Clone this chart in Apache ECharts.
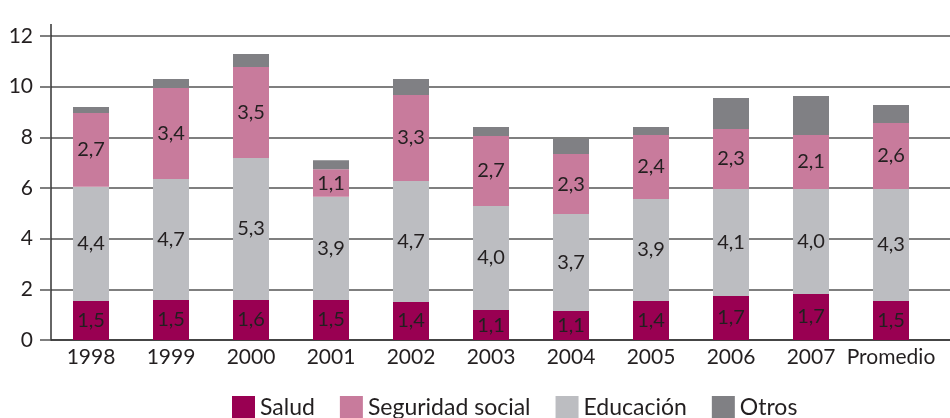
<!DOCTYPE html>
<html lang="es">
<head>
    <meta charset="UTF-8">
    <title>Gasto social</title>
    <script src="https://cdn.jsdelivr.net/npm/echarts@6/dist/echarts.min.js"></script>
    <style>
        html, body { margin: 0; padding: 0; background: #ffffff; }
        #main { width: 950px; height: 418px; }
    </style>
</head>
<body>
<div id="main"></div>
<script type="text/javascript">
    // categorias del eje x
    var categories = ['1998', '1999', '2000', '2001', '2002', '2003', '2004', '2005', '2006', '2007', 'Promedio'];

    // alturas de los tramos
    var salud = [1.54, 1.58, 1.58, 1.58, 1.50, 1.18, 1.14, 1.54, 1.74, 1.82, 1.54];
    var educacion = [4.51, 4.78, 5.60, 4.07, 4.78, 4.11, 3.83, 4.03, 4.22, 4.14, 4.42];
    var seguridad = [2.91, 3.59, 3.60, 1.09, 3.39, 2.76, 2.37, 2.52, 2.37, 2.13, 2.61];
    var otros = [0.24, 0.35, 0.51, 0.36, 0.63, 0.36, 0.60, 0.32, 1.22, 1.54, 0.71];

    // etiquetas impresas dentro de las barras
    var saludLabels = ['1,5', '1,5', '1,6', '1,5', '1,4', '1,1', '1,1', '1,4', '1,7', '1,7', '1,5'];
    var educacionLabels = ['4,4', '4,7', '5,3', '3,9', '4,7', '4,0', '3,7', '3,9', '4,1', '4,0', '4,3'];
    var seguridadLabels = ['2,7', '3,4', '3,5', '1,1', '3,3', '2,7', '2,3', '2,4', '2,3', '2,1', '2,6'];

    var font = 'Lato, "Open Sans", sans-serif';
    var textColor = '#231f20';
    var gridColor = '#555555';

    var myChart = echarts.init(document.getElementById('main'));

    function makeSeries(name, values, labels, color) {
        return {
            name: name,
            type: 'bar',
            stack: 'total',
            xAxisIndex: 1,
            yAxisIndex: 1,
            barWidth: 36,
            data: values,
            itemStyle: { color: color },
            label: {
                show: !!labels,
                position: 'inside',
                color: textColor,
                fontFamily: font,
                fontSize: 20,
                formatter: function (p) { return labels ? labels[p.dataIndex] : ''; }
            },
            emphasis: { disabled: true }
        };
    }

    myChart.setOption({
        backgroundColor: '#ffffff',
        animation: false,
        // grid 0: rejilla que llega al borde derecho; grid 1: barras
        grid: [
            { left: 51, right: 0, top: 36, height: 304 },
            { left: 51, right: 19, top: 36, height: 304 }
        ],
        legend: {
            top: 396,
            left: 232,
            padding: 0,
            itemWidth: 23,
            itemHeight: 23,
            itemGap: 25,
            icon: 'rect',
            textStyle: { fontFamily: font, fontSize: 23, color: textColor },
            data: ['Salud', 'Seguridad social', 'Educación', 'Otros']
        },
        xAxis: [
            {
                gridIndex: 0,
                type: 'value',
                min: 0,
                max: 1,
                axisLine: { show: true, onZero: false, lineStyle: { color: '#333333', width: 1.5 } },
                axisTick: { show: false },
                axisLabel: { show: false },
                splitLine: { show: false }
            },
            {
                gridIndex: 1,
                type: 'category',
                data: categories,
                axisLine: { show: false },
                axisTick: { show: false },
                axisLabel: {
                    fontFamily: font,
                    fontSize: 21,
                    color: textColor,
                    margin: 7,
                    interval: 0
                }
            }
        ],
        yAxis: [
            {
                gridIndex: 0,
                type: 'value',
                min: 0,
                max: 12,
                interval: 2,
                axisLine: { show: true, onZero: false, lineStyle: { color: '#333333', width: 1.5 } },
                axisTick: { show: true, length: 11, lineStyle: { color: gridColor, width: 1.5 } },
                splitLine: { show: true, lineStyle: { color: gridColor, width: 1.5 } },
                axisLabel: {
                    fontFamily: font,
                    fontSize: 21,
                    color: textColor,
                    margin: 18
                }
            },
            {
                gridIndex: 1,
                type: 'value',
                min: 0,
                max: 12,
                interval: 2,
                show: false
            }
        ],
        series: [
            makeSeries('Salud', salud, saludLabels, '#990052'),
            makeSeries('Educación', educacion, educacionLabels, '#bcbdc1'),
            makeSeries('Seguridad social', seguridad, seguridadLabels, '#c87b9c'),
            makeSeries('Otros', otros, null, '#808084')
        ]
    });

    // prolongacion del eje y por encima del 12
    var ax = myChart.convertToPixel({ xAxisIndex: 0 }, 0);
    var top12 = myChart.convertToPixel({ yAxisIndex: 0 }, 12);
    myChart.setOption({
        graphic: [{
            type: 'line',
            shape: { x1: ax, y1: top12, x2: ax, y2: top12 - 12 },
            style: { stroke: '#333333', lineWidth: 1.5 }
        }]
    });
</script>
</body>
</html>
